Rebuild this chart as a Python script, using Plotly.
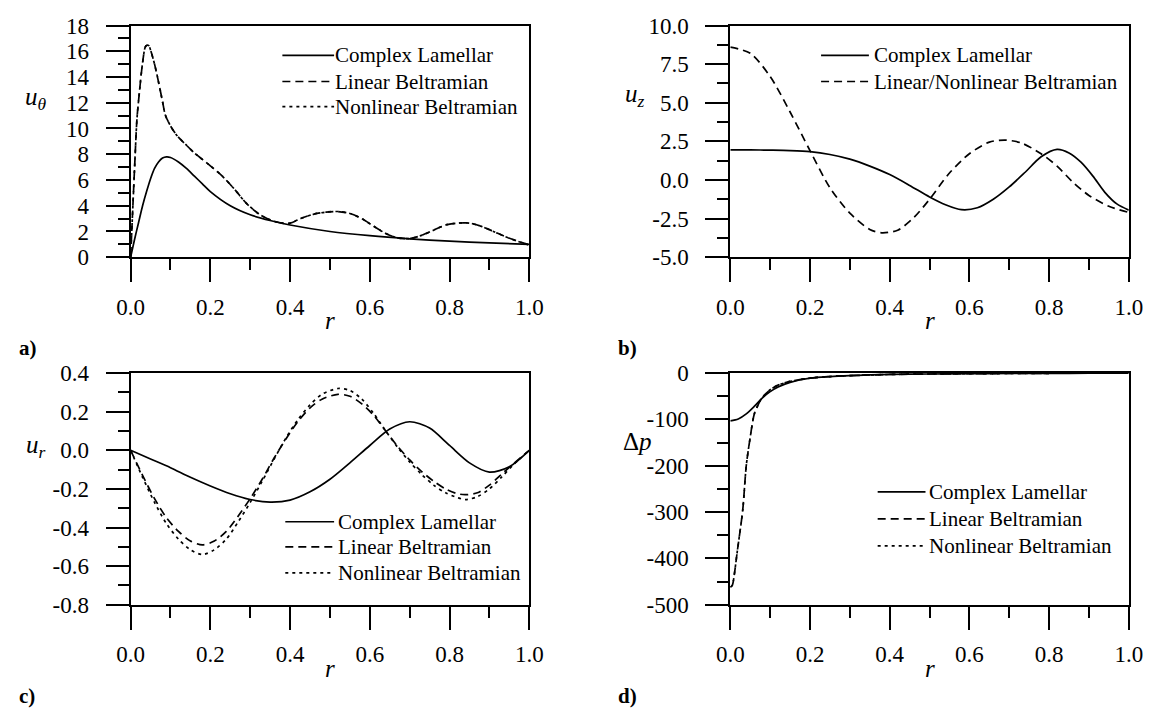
import plotly.graph_objects as go

W, H = 1162, 723
FONT = "Liberation Serif"

# ---------------- a) tangential velocity ----------------
r_a_cl = [0, 0.01, 0.02, 0.03, 0.04, 0.05, 0.06, 0.07, 0.08, 0.09, 0.10, 0.12, 0.14,
          0.16, 0.18, 0.20, 0.25, 0.30, 0.35, 0.40, 0.50, 0.60, 0.70, 0.80, 0.90, 1.0]
ut_cl = [0, 1.4, 2.7, 4.0, 5.1, 6.1, 6.9, 7.4, 7.7, 7.8, 7.75, 7.4, 6.9,
         6.3, 5.7, 5.1, 4.0, 3.3, 2.85, 2.5, 2.0, 1.67, 1.43, 1.25, 1.11, 1.0]

r_a_b = [0, 0.005, 0.01, 0.016, 0.022, 0.03, 0.038, 0.045, 0.05, 0.06, 0.067, 0.08,
         0.087, 0.10, 0.115, 0.14, 0.16, 0.18, 0.20, 0.23, 0.26, 0.29, 0.32, 0.35,
         0.38, 0.40, 0.43, 0.46, 0.49, 0.52, 0.55, 0.58, 0.61, 0.64, 0.67, 0.70,
         0.73, 0.76, 0.79, 0.82, 0.85, 0.88, 0.91, 0.94, 0.97, 1.0]
ut_lb = [0, 3.5, 7.0, 10.8, 12.8, 15.1, 16.4, 16.45, 16.1, 15.0, 14.05, 12.1,
         11.05, 10.2, 9.5, 8.7, 8.1, 7.6, 7.1, 6.3, 5.3, 4.2, 3.4, 2.9,
         2.65, 2.65, 3.05, 3.35, 3.5, 3.55, 3.4, 3.0, 2.4, 1.85, 1.5, 1.45,
         1.7, 2.1, 2.5, 2.65, 2.65, 2.4, 2.0, 1.6, 1.25, 0.95]
ut_nb = [0, 3.5, 7.0, 10.8, 12.8, 15.1, 16.4, 16.45, 16.1, 15.0, 14.05, 12.1,
         11.05, 10.2, 9.5, 8.7, 8.1, 7.6, 7.1, 6.3, 5.3, 4.2, 3.4, 2.9,
         2.65, 2.65, 3.05, 3.35, 3.5, 3.55, 3.4, 3.0, 2.4, 1.85, 1.5, 1.45,
         1.7, 2.1, 2.5, 2.65, 2.65, 2.4, 2.0, 1.6, 1.25, 0.95]

# ---------------- b) axial velocity ----------------
r_b_cl = [0, 0.05, 0.10, 0.15, 0.20, 0.25, 0.30, 0.35, 0.40, 0.45, 0.50, 0.54, 0.58,
          0.62, 0.66, 0.70, 0.74, 0.78, 0.82, 0.85, 0.88, 0.91, 0.94, 0.97, 1.0]
uz_cl = [1.95, 1.95, 1.93, 1.9, 1.83, 1.65, 1.35, 0.9, 0.35, -0.35, -1.1, -1.6, -1.92,
         -1.8, -1.25, -0.45, 0.5, 1.5, 1.98, 1.75, 1.15, 0.25, -0.8, -1.55, -1.95]

r_b_b = [0, 0.05, 0.10, 0.15, 0.20, 0.25, 0.30, 0.35, 0.38, 0.42, 0.46, 0.50, 0.55,
         0.60, 0.65, 0.69, 0.73, 0.78, 0.82, 0.86, 0.90, 0.95, 1.0]
uz_b = [8.6, 8.2, 6.7, 4.4, 1.9, -0.5, -2.15, -3.2, -3.42, -3.25, -2.45, -1.25, 0.45,
        1.7, 2.45, 2.58, 2.4, 1.7, 0.9, -0.15, -1.0, -1.7, -2.1]

# ---------------- c) radial velocity ----------------
r_c_cl = [0, 0.05, 0.10, 0.15, 0.20, 0.25, 0.30, 0.35, 0.40, 0.45, 0.50, 0.55, 0.60,
          0.65, 0.70, 0.75, 0.80, 0.85, 0.90, 0.95, 1.0]
ur_cl = [0, -0.045, -0.09, -0.14, -0.185, -0.225, -0.255, -0.268, -0.258, -0.215, -0.15,
         -0.065, 0.025, 0.11, 0.148, 0.115, 0.025, -0.065, -0.113, -0.085, 0]

r_c_b = [0, 0.03, 0.06, 0.09, 0.12, 0.15, 0.18, 0.21, 0.24, 0.27, 0.30, 0.33, 0.36,
         0.39, 0.42, 0.45, 0.48, 0.52, 0.55, 0.58, 0.61, 0.64, 0.67, 0.70, 0.73,
         0.76, 0.79, 0.82, 0.84, 0.87, 0.90, 0.93, 0.96, 1.0]
ur_lb = [0, -0.13, -0.25, -0.35, -0.42, -0.47, -0.49, -0.47, -0.42, -0.34, -0.25, -0.15,
         -0.04, 0.06, 0.15, 0.22, 0.265, 0.29, 0.28, 0.24, 0.18, 0.1, 0.02, -0.05,
         -0.11, -0.16, -0.2, -0.225, -0.23, -0.22, -0.18, -0.125, -0.07, 0]
ur_nb = [0, -0.14, -0.27, -0.38, -0.46, -0.515, -0.54, -0.515, -0.46, -0.37, -0.27, -0.16,
         -0.045, 0.065, 0.16, 0.235, 0.29, 0.32, 0.31, 0.265, 0.19, 0.1, 0.015, -0.06,
         -0.125, -0.18, -0.22, -0.245, -0.255, -0.24, -0.2, -0.14, -0.075, 0]

# ---------------- d) pressure difference ----------------
r_d_cl = [0, 0.02, 0.04, 0.06, 0.08, 0.10, 0.12, 0.15, 0.20, 0.25, 0.30, 0.40, 0.50,
          0.60, 0.70, 0.80, 0.90, 1.0]
dp_cl = [-103, -99, -88, -72, -54, -40, -30, -20, -11, -7.5, -5.5, -3, -2,
         -1.3, -0.9, -0.6, -0.3, 0]

r_d_b = [0, 0.005, 0.01, 0.017, 0.031, 0.04, 0.049, 0.06, 0.07, 0.079, 0.09, 0.10,
         0.12, 0.15, 0.20, 0.25, 0.30, 0.40, 0.50, 0.60, 0.70, 0.80]
dp_lb = [-462, -458, -435, -388, -297, -200, -144, -89, -68, -54, -44, -36,
         -26, -18, -11, -7.5, -5.5, -3, -2, -1.3, -0.9, -0.6]
dp_nb = [-462, -458, -435, -388, -297, -200, -144, -89, -68, -54, -44, -36,
         -26, -18, -11, -7.5, -5.5, -3, -2, -1.3, -0.9, -0.6]

# ---------------- tick labels ----------------
r_ticks = [0.0, 0.2, 0.4, 0.6, 0.8, 1.0]
r_ticktext = ["0.0", "0.2", "0.4", "0.6", "0.8", "1.0"]
ya_ticks = [0, 2, 4, 6, 8, 10, 12, 14, 16, 18]
ya_text = ["0", "2", "4", "6", "8", "10", "12", "14", "16", "18"]
yb_ticks = [-5, -2.5, 0, 2.5, 5, 7.5, 10]
yb_text = ["-5.0", "-2.5", "0.0", "2.5", "5.0", "7.5", "10.0"]
yc_ticks = [-0.8, -0.6, -0.4, -0.2, 0.0, 0.2, 0.4]
yc_text = ["-0.8", "-0.6", "-0.4", "-0.2", "0.0", "0.2", "0.4"]
yd_ticks = [-500, -400, -300, -200, -100, 0]
yd_text = ["-500", "-400", "-300", "-200", "-100", "0"]

LEG_CL = "Complex Lamellar"
LEG_LB = "Linear Beltramian"
LEG_NB = "Nonlinear Beltramian"
LEG_BB = "Linear/Nonlinear Beltramian"

# ---------------- styling ----------------
SOLID = "solid"
DASH = "8px,5px"
DOT = "3px,4px"
LW = 1.7


def px_x(v):
    return v / W


def px_y(v):
    return 1 - v / H


# plot areas in pixels: (left, right, top, bottom)
boxes = {
    "a": (119.5, 528.0, 14.0, 254.0),
    "b": (734.0, 1142.3, 14.0, 254.0),
    "c": (119.5, 528.0, 374.0, 614.0),
    "d": (734.0, 1142.3, 374.0, 614.0),
}

fig = go.Figure()


def add_line(r, v, dash, xa, ya, name):
    fig.add_trace(go.Scatter(
        x=r, y=v, mode="lines", name=name, showlegend=False,
        line=dict(color="black", width=LW, dash=dash, shape="spline", smoothing=0.8),
        xaxis=xa, yaxis=ya, hoverinfo="skip"))


add_line(r_a_cl, ut_cl, SOLID, "x", "y", LEG_CL)
add_line(r_a_b, ut_lb, DASH, "x", "y", LEG_LB)
add_line(r_a_b, ut_nb, DOT, "x", "y", LEG_NB)

add_line(r_b_cl, uz_cl, SOLID, "x2", "y2", LEG_CL)
add_line(r_b_b, uz_b, DASH, "x2", "y2", LEG_BB)

add_line(r_c_cl, ur_cl, SOLID, "x3", "y3", LEG_CL)
add_line(r_c_b, ur_lb, DASH, "x3", "y3", LEG_LB)
add_line(r_c_b, ur_nb, DOT, "x3", "y3", LEG_NB)

add_line(r_d_cl, dp_cl, SOLID, "x4", "y4", LEG_CL)
add_line(r_d_b, dp_lb, DASH, "x4", "y4", LEG_LB)
add_line(r_d_b, dp_nb, DOT, "x4", "y4", LEG_NB)

tickfont = dict(family=FONT, size=23, color="black")
common = dict(showline=True, linewidth=2, linecolor="black", mirror=True,
              ticks="outside", ticklen=23, tickwidth=2, tickcolor="black",
              showgrid=False, zeroline=False, tickfont=tickfont)


def xaxis(key, anchor):
    l, r, t, b = boxes[key]
    return dict(common, domain=[px_x(l), px_x(r)], range=[0, 1], anchor=anchor,
                tickmode="array", tickvals=r_ticks, ticktext=r_ticktext,
                ticklabelstandoff=5,
                minor=dict(ticks="outside", ticklen=11, tickwidth=2, tickcolor="black",
                           tick0=0, dtick=0.1, showgrid=False))


def yaxis(key, anchor, rng, vals, text, mdt):
    l, r, t, b = boxes[key]
    return dict(common, domain=[px_y(b), px_y(t)], range=rng, anchor=anchor,
                tickmode="array", tickvals=vals, ticktext=text,
                ticklabelstandoff=12,
                minor=dict(ticks="outside", ticklen=11, tickwidth=2, tickcolor="black",
                           tick0=0, dtick=mdt, showgrid=False))


fig.update_layout(
    width=W, height=H, margin=dict(l=0, r=0, t=0, b=0),
    paper_bgcolor="white", plot_bgcolor="white", showlegend=False,
    font=dict(family=FONT, color="black"),
    xaxis=xaxis("a", "y"), yaxis=yaxis("a", "x", [0, 18], ya_ticks, ya_text, 1),
    xaxis2=xaxis("b", "y2"), yaxis2=yaxis("b", "x2", [-5, 10], yb_ticks, yb_text, 1.25),
    xaxis3=xaxis("c", "y3"), yaxis3=yaxis("c", "x3", [-0.8, 0.4], yc_ticks, yc_text, 0.1),
    xaxis4=xaxis("d", "y4"), yaxis4=yaxis("d", "x4", [-500, 0], yd_ticks, yd_text, 50),
)

annotations = []
shapes = []


def text_at(x, y, s, size=21, xanchor="left", yanchor="middle"):
    annotations.append(dict(x=px_x(x), y=px_y(y), xref="paper", yref="paper",
                            text=s, showarrow=False, xanchor=xanchor, yanchor=yanchor,
                            font=dict(family=FONT, size=size, color="black")))


def legend_row(x0, x1, xt, y, dash, label):
    shapes.append(dict(type="line", xref="paper", yref="paper",
                       x0=px_x(x0), x1=px_x(x1), y0=px_y(y), y1=px_y(y),
                       line=dict(color="black", width=LW, dash=dash)))
    text_at(xt - 4, y, label)


# legends
legend_row(275, 328, 331, 45, SOLID, LEG_CL)
legend_row(275, 328, 331, 72, DASH, LEG_LB)
legend_row(275, 328, 331, 98, DOT, LEG_NB)

legend_row(827, 876, 883, 45, SOLID, LEG_CL)
legend_row(827, 876, 883, 72, DASH, LEG_BB)

legend_row(278, 328, 334, 528, SOLID, LEG_CL)
legend_row(278, 328, 334, 554, DASH, LEG_LB)
legend_row(278, 328, 334, 581, DOT, LEG_NB)

legend_row(885, 934, 940, 497, SOLID, LEG_CL)
legend_row(885, 934, 940, 525, DASH, LEG_LB)
legend_row(885, 934, 940, 553, DOT, LEG_NB)

# axis titles
text_at(23, 90, "<i>u</i><sub><i>θ</i></sub>", size=25, xanchor="center")
text_at(636, 87, "<i>u</i><sub><i>z</i></sub>", size=25, xanchor="center")
text_at(23, 450, "<i>u</i><sub><i>r</i></sub>", size=25, xanchor="center")
text_at(639, 445, "Δ<i>p</i>", size=25, xanchor="center")
for key in boxes:
    l, r, t, b = boxes[key]
    text_at((l + r) / 2, b + 66, "<i>r</i>", size=25, xanchor="center")

# panel labels
text_at(3, 348, "<b>a)</b>", size=21)
text_at(617, 348, "<b>b)</b>", size=21)
text_at(3, 708, "<b>c)</b>", size=21)
text_at(617, 708, "<b>d)</b>", size=21)

fig.update_layout(annotations=annotations, shapes=shapes)
fig.write_html("out.html")
